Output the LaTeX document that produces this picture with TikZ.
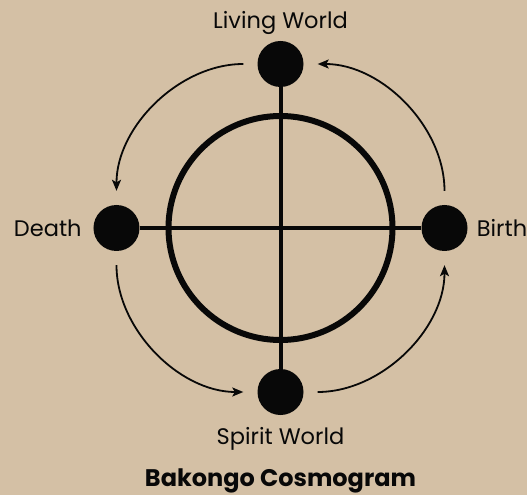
\documentclass[tikz,border=0pt]{standalone}
\usepackage{fontspec}
\setmainfont{Poppins}
\usetikzlibrary{arrows.meta,positioning}
\definecolor{parchment}{HTML}{D4C0A5}
\definecolor{inkblack}{HTML}{080808}

\begin{document}
\begin{tikzpicture}[x=1pt,y=1pt,
  dot/.style={circle,fill=inkblack,minimum size=46pt,inner sep=0pt},
  lbl/.style={inner sep=0pt,text=inkblack,font=\fontsize{22.5}{26}\selectfont},
  flow/.style={-{Stealth[length=11pt,width=9pt,inset=2.5pt]},line width=1.8pt,
    draw=inkblack,shorten <=14pt,shorten >=14pt}]
\useasboundingbox (-280.5,-267) rectangle (246.5,228);
\fill[parchment] (-280.5,-267) rectangle (246.5,228);
\coordinate (hub) at (0,0);
% the four moments
\node[dot] (living) at (0,164) {};
\node[dot] (death) at (-164,0) {};
\node[dot] (birth) at (164,0) {};
\node[dot] (spirit) at (0,-164) {};
% circle and cross
\draw[inkblack,line width=6pt] (hub) circle[radius=112];
\draw[inkblack,line width=4pt] (living) -- (spirit);
\draw[inkblack,line width=4pt] (death) -- (birth);
% cycle, counterclockwise
\draw[flow] (birth) to[bend right=45] (living);
\draw[flow] (living) to[bend right=45] (death);
\draw[flow] (death) to[bend right=45] (spirit);
\draw[flow] (spirit) to[bend right=45] (birth);
% labels
\node[lbl,above=12pt of living,anchor=base] (livinglbl) {Living World};
\node[lbl,left=11.5pt of death] (deathlbl) {Death};
\node[lbl,right=9pt of birth] (birthlbl) {Birth};
\node[lbl,below=29pt of spirit,anchor=base] (spiritlbl) {Spirit World};
\node[lbl,font=\fontsize{24}{28}\selectfont\bfseries,below=42pt of spiritlbl.base,anchor=base] (title) {Bakongo Cosmogram};
\end{tikzpicture}
\end{document}
